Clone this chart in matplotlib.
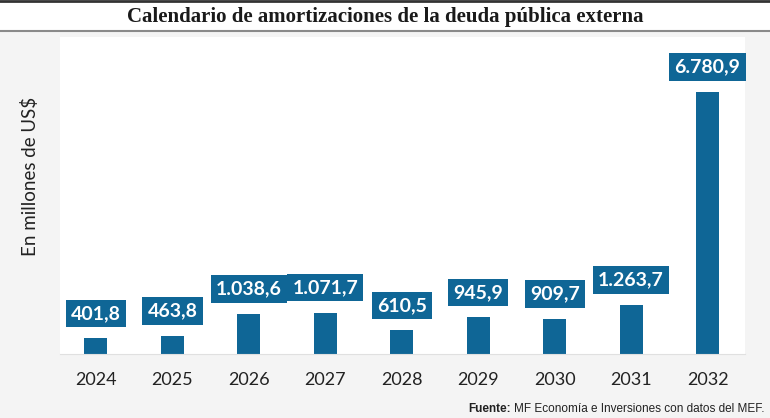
import matplotlib.pyplot as plt
from matplotlib import font_manager
import numpy as np

years = ['2024', '2025', '2026', '2027', '2028', '2029', '2030', '2031', '2032']
amortizaciones = [401.8, 463.8, 1038.6, 1071.7, 610.5, 945.9, 909.7, 1263.7, 6780.9]
etiquetas = ['401,8', '463,8', '1.038,6', '1.071,7', '610,5', '945,9', '909,7', '1.263,7', '6.780,9']

bar_color = '#0f6696'
bg_color = '#f4f4f4'

names = {f.name for f in font_manager.fontManager.ttflist}
narrow = 'Liberation Sans Narrow' if 'Liberation Sans Narrow' in names else 'Liberation Sans'

fig = plt.figure(figsize=(7.7, 4.18), dpi=100)
fig.patch.set_facecolor(bg_color)

# banda del titulo
fig.patches.append(plt.Rectangle((0, 1 - 31/418), 1, 31/418, transform=fig.transFigure,
                                 facecolor='white', edgecolor='none', zorder=0))
fig.add_artist(plt.Line2D([0, 1], [1 - 1/418, 1 - 1/418], color='#333333', lw=2))
fig.add_artist(plt.Line2D([0, 1], [1 - 31/418, 1 - 31/418], color='#8a8a8a', lw=1.5))
fig.text(0.5, 1 - 17/418, 'Calendario de amortizaciones de la deuda pública externa',
         ha='center', va='center', fontsize=15, fontweight='bold',
         family='Liberation Serif', color='#1a1a1a')

ax = fig.add_axes([60/770, 64/418, 685/770, 317/418])
ax.set_facecolor('white')
x = np.arange(len(years))
ax.bar(x, amortizaciones, width=0.30, color=bar_color, zorder=2)

for xi, v, lab in zip(x, amortizaciones, etiquetas):
    ax.annotate(lab, (xi, v), xytext=(0, 18), textcoords='offset points',
                ha='center', va='center', color='white', fontsize=14,
                fontweight='bold', family='Lato',
                bbox=dict(boxstyle='square,pad=0.27', facecolor=bar_color, edgecolor='none'))

ax.set_xlim(-0.47, 8.49)
ax.set_ylim(0, 8210)
ax.set_yticks([])
ax.set_xticks(x)
ax.set_xticklabels(years, fontsize=13, family='Lato', color='#222222')
ax.tick_params(axis='x', length=0, pad=13)
for s in ax.spines.values():
    s.set_visible(False)
ax.spines['bottom'].set_visible(True)
ax.spines['bottom'].set_color('#e0e0e0')

fig.text(30/770, 1 - 176/418, 'En millones de US$', rotation=90, ha='center', va='center',
         fontsize=13.5, family='Lato', color='#222222')

t1 = fig.text(764/770, 1 - 409/418, 'MF Economía e Inversiones con datos del MEF.',
              ha='right', va='center', fontsize=8.5, family=narrow, color='#222222')
fig.canvas.draw()
bb = t1.get_window_extent()
fig.text((bb.x0 - 3) / 770, 1 - 409/418, 'Fuente:', ha='right', va='center',
         fontsize=8.5, family=narrow, fontweight='bold', color='#222222')

fig.savefig('out.png', dpi=100, facecolor=bg_color)
